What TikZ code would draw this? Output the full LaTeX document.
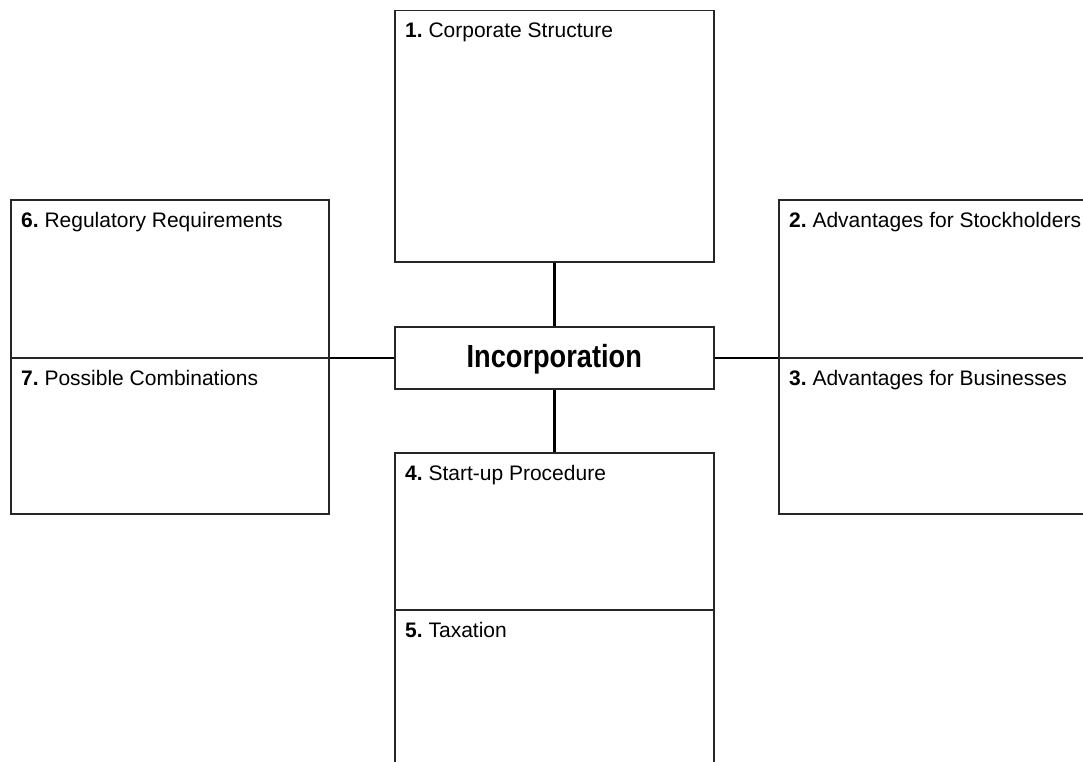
\documentclass[tikz,border=0pt]{standalone}
\usepackage{fontspec}
\setmainfont{Liberation Sans}
\newfontfamily\condfont{Liberation Sans}[FakeStretch=0.85]
\frenchspacing
\begin{document}
\begin{tikzpicture}[x=1pt,y=-1pt,
  box/.style={draw=black!85,line width=1.5pt,minimum width=#1,inner sep=0pt,anchor=north west},
  lbl/.style={anchor=base west,inner sep=0pt,font=\fontsize{21}{25}\selectfont},
  conn/.style={draw=black,line width=2.5pt}]
\useasboundingbox (0,0) rectangle (1083,762);
\clip (0,0) rectangle (1083,762);
\fill[white] (0,0) rectangle (1083,762);
% boxes
\node[box=319pt,minimum height=251pt] (b1) at (394,10) {};
\node[box=330pt,minimum height=158pt] (b2) at (778,199) {};
\node[box=330pt,minimum height=156pt] (b3) at (778,357) {};
\node[box=319pt,minimum height=157pt] (b4) at (394,452) {};
\node[box=319pt,minimum height=170pt] (b5) at (394,609) {};
\node[box=318pt,minimum height=158pt] (b6) at (10,199) {};
\node[box=318pt,minimum height=156pt] (b7) at (10,357) {};
\node[box=319pt,minimum height=62pt] (inc) at (394,326) {};
\node[font=\condfont\fontsize{32}{36}\selectfont\bfseries,inner sep=0pt] (inct) at ([yshift=-1pt]inc.center) {Incorporation};
% labels
\node[lbl] (t1) at ([xshift=11pt,yshift=-28pt]b1.north west) {\textbf{1.} Corporate Structure};
\node[lbl] (t2) at ([xshift=11pt,yshift=-28pt]b2.north west) {\textbf{2.} Advantages for Stockholders};
\node[lbl] (t3) at ([xshift=11pt,yshift=-28pt]b3.north west) {\textbf{3.} Advantages for Businesses};
\node[lbl] (t4) at ([xshift=11pt,yshift=-28pt]b4.north west) {\textbf{4.} Start-up Procedure};
\node[lbl] (t5) at ([xshift=11pt,yshift=-28pt]b5.north west) {\textbf{5.} Taxation};
\node[lbl] (t6) at ([xshift=11pt,yshift=-28pt]b6.north west) {\textbf{6.} Regulatory Requirements};
\node[lbl] (t7) at ([xshift=11pt,yshift=-28pt]b7.north west) {\textbf{7.} Possible Combinations};
% connectors
\draw[conn] (b1.south) -- (b1.south |- inc.north);
\draw[conn] (b4.north |- inc.south) -- (b4.north);
\draw[conn] (inc.west) -- (inc.west -| b6.east);
\draw[conn] (inc.east) -- (inc.east -| b2.west);
\end{tikzpicture}
\end{document}
